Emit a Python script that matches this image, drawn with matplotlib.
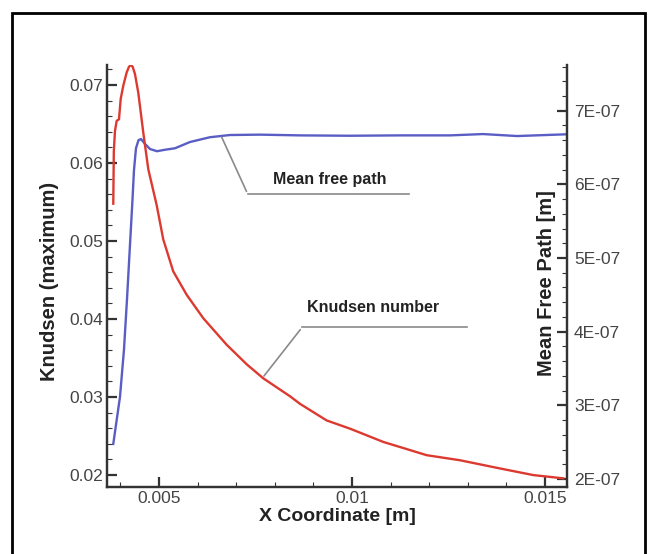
import numpy as np
import matplotlib
matplotlib.use('Agg')
import matplotlib.pyplot as plt
from matplotlib.patches import Rectangle
from matplotlib.ticker import MultipleLocator, FuncFormatter

plt.rcParams['font.family'] = ['Liberation Sans', 'DejaVu Sans']

# Knudsen number (left axis)
kn_x = [0.003816, 0.00383, 0.00386, 0.003904, 0.003964, 0.004008, 0.004075,
        0.004163, 0.00422, 0.004275, 0.00432, 0.004378, 0.004464, 0.004593,
        0.004723, 0.00494, 0.005111, 0.00537, 0.005718, 0.006148, 0.006754,
        0.007272, 0.007702, 0.008394, 0.008653, 0.009345, 0.009948, 0.01081,
        0.011935, 0.012798, 0.013834, 0.014697, 0.015474]
kn_y = [0.05478, 0.0615, 0.0641, 0.0654, 0.0656, 0.0682, 0.0699,
        0.0716, 0.0723, 0.0726, 0.0723, 0.0714, 0.0690, 0.0639,
        0.0592, 0.0546, 0.0502, 0.0461, 0.0431, 0.0401, 0.0367,
        0.0342, 0.0324, 0.0301, 0.02913, 0.0270, 0.02595, 0.02425,
        0.02255, 0.0219, 0.02085, 0.0200, 0.01958]

# mean free path (right axis)
mfp_x = [0.003816, 0.00399, 0.004093, 0.004171, 0.004249, 0.004313, 0.004352,
         0.004404, 0.004469, 0.004534, 0.004637, 0.004767, 0.004948, 0.005155,
         0.005415, 0.005803, 0.006321, 0.006839, 0.007617, 0.008653, 0.009948,
         0.011244, 0.012539, 0.013394, 0.014275, 0.01557]
mfp_y = [2.476e-7, 3.116e-7, 3.755e-7, 4.435e-7, 5.18e-7, 5.785e-7, 6.19e-7,
         6.49e-7, 6.60e-7, 6.615e-7, 6.55e-7, 6.48e-7, 6.45e-7, 6.47e-7,
         6.49e-7, 6.575e-7, 6.64e-7, 6.67e-7, 6.675e-7, 6.665e-7, 6.66e-7,
         6.665e-7, 6.665e-7, 6.683e-7, 6.656e-7, 6.68e-7]

fig = plt.figure(figsize=(6.48, 5.54), dpi=100)
ax = fig.add_axes([0.1651, 0.1209, 0.7099, 0.7617])
ax2 = ax.twinx()

ax2.plot(mfp_x, mfp_y, color='#5a5ec4', lw=1.7, solid_joinstyle='round')
ax.plot(kn_x, kn_y, color='#dc3a30', lw=1.7, solid_joinstyle='round')
ax.set_zorder(ax2.get_zorder() + 1)
ax.patch.set_visible(False)

ax.set_xlim(0.003653, 0.01557)
ax.set_ylim(0.01847, 0.07255)
ax2.set_ylim(1.891e-7, 7.62e-7)

tick_col = '#444444'
for a in (ax, ax2):
    a.spines['top'].set_visible(False)
    for s in a.spines.values():
        s.set_linewidth(1.6)
        s.set_color('#333333')
    a.tick_params(which='both', direction='in', colors='#333333',
                  labelcolor=tick_col, labelsize=12.5)
    a.tick_params(which='major', length=7, width=1.6)
    a.tick_params(which='minor', length=3.5, width=0.8)

ax.xaxis.set_major_locator(MultipleLocator(0.005))
ax.xaxis.set_minor_locator(MultipleLocator(0.001))
ax.xaxis.set_major_formatter(FuncFormatter(lambda v, p: ('%g' % v)))
ax.yaxis.set_major_locator(MultipleLocator(0.01))
ax.yaxis.set_minor_locator(MultipleLocator(0.002))
ax.yaxis.set_major_formatter(FuncFormatter(lambda v, p: '%.2f' % v))
ax2.yaxis.set_major_locator(MultipleLocator(1e-7))
ax2.yaxis.set_minor_locator(MultipleLocator(2e-8))
ax2.yaxis.set_major_formatter(FuncFormatter(lambda v, p: '%dE-07' % round(v * 1e7)))
ax.tick_params(axis='y', pad=3)
ax.tick_params(axis='x', pad=3)
ax2.tick_params(axis='y', pad=5)

ax.set_xlabel('X Coordinate [m]', fontsize=14, fontweight='bold', color='#222222')
ax.set_ylabel('Knudsen (maximum)', fontsize=14.5, fontweight='bold', color='#222222')
ax2.set_ylabel('Mean Free Path [m]', fontsize=14.5, fontweight='bold', color='#222222',
               rotation=90)
ax.xaxis.set_label_coords(0.5, -0.05)
ax.yaxis.set_label_coords(-0.104, 0.488)
ax2.yaxis.set_label_coords(0.935, 0.483)

# leader-line annotations
ax2.annotate('', xy=(0.006595, 6.675e-7), xytext=(0.007297, 5.87e-7),
             arrowprops=dict(arrowstyle='-', color='#8a8a8a', lw=1.2))
ax2.plot([0.007297, 0.011478], [5.87e-7, 5.87e-7], color='#8a8a8a', lw=1.2)
ax2.text(0.007953, 6.07e-7, 'Mean free path', fontsize=11.5, fontweight='bold',
         color='#222222', va='center')
ax.annotate('', xy=(0.007676, 0.03242), xytext=(0.008705, 0.03892),
            arrowprops=dict(arrowstyle='-', color='#8a8a8a', lw=1.2))
ax.plot([0.008705, 0.012979], [0.03892, 0.03892], color='#8a8a8a', lw=1.2)
ax.text(0.008834, 0.04146, 'Knudsen number', fontsize=11.5, fontweight='bold',
        color='#222222', va='center')

# black frame around the figure
W, H = 648.0, 554.0
fig.patches.append(Rectangle((12 / W, -0.05), (645 - 12) / W, (541 / H) + 0.05,
                             transform=fig.transFigure, fill=False,
                             edgecolor='black', lw=2, clip_on=False))

fig.savefig('out.png', dpi=100)
